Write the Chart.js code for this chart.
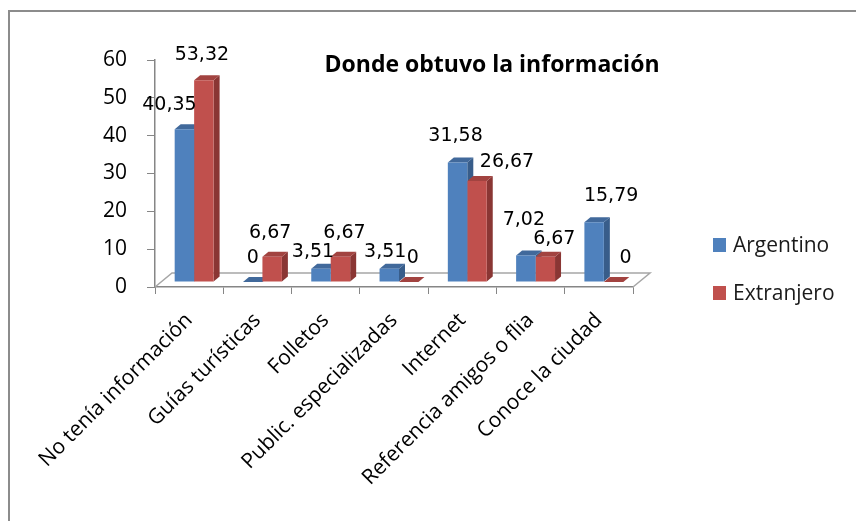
<!DOCTYPE html>
<html>
<head>
<meta charset="utf-8">
<script src="https://cdn.jsdelivr.net/npm/chart.js@4.4.1/dist/chart.umd.min.js"></script>
<style>
  html, body { margin: 0; padding: 0; background: #fff; }
  canvas { display: block; }
</style>
</head>
<body>
<canvas id="chart" width="856" height="521"></canvas>
<script>
// datos
const categories = ['No tenía información', 'Guías turísticas', 'Folletos', 'Public. especializadas', 'Internet', 'Referencia amigos o flia', 'Conoce la ciudad'];
const argentino = [40.35, 0, 3.51, 3.51, 31.58, 7.02, 15.79];
const extranjero = [53.32, 6.67, 6.67, 0, 26.67, 6.67, 0];
const seriesNames = ['Argentino', 'Extranjero'];
const yMin = 0, yMax = 60, yStep = 10;
const chartTitle = 'Donde obtuvo la información';

// ajustes a mano de las etiquetas (como las coloca Excel en 3D)
const labelNudge = [
  [[-15, 0], [0, 0], [-8, 7], [-4, 7], [-2, -2], [-2, -11], [17, -2]],
  [[-2, -1], [-2, 0], [4, 0], [4, 0], [30, 5], [9, 6], [12, 0]]
];

const FRONT = ['#4F81BD', '#C0504D'];
const TOP = ['#41699b', '#a24340'];
const SIDE = ['#385d8a', '#8a3634'];
const SHIFT = { x: 5, y: -5 };   // desplazamiento de las barras sobre el piso
const DEPTH = { x: 6, y: -5 };   // profundidad de cada barra
const FLOOR = { x: 17, y: -14 };
const FONT = '"Open Sans", "Liberation Sans", sans-serif';

function fmt(v) {
  return Number.isInteger(v) ? String(v) : v.toFixed(2).replace('.', ',');
}

const frame3d = {
  id: 'frame3d',
  beforeDraw(chart) {
    const ctx = chart.ctx;
    ctx.save();
    ctx.fillStyle = '#fff';
    ctx.fillRect(0, 0, chart.width, chart.height);
    ctx.strokeStyle = '#8c8c8c';
    ctx.lineWidth = 2;
    ctx.beginPath();
    ctx.moveTo(9, chart.height);
    ctx.lineTo(9, 11);
    ctx.lineTo(chart.width, 11);
    ctx.stroke();
    ctx.restore();
  },
  beforeDatasetsDraw(chart) {
    const ctx = chart.ctx;
    const a = chart.chartArea;
    // piso
    ctx.save();
    ctx.strokeStyle = '#a6a6a6';
    ctx.lineWidth = 1.5;
    ctx.beginPath();
    ctx.moveTo(a.left, a.bottom);
    ctx.lineTo(a.left + FLOOR.x, a.bottom + FLOOR.y);
    ctx.lineTo(a.right + FLOOR.x, a.bottom + FLOOR.y);
    ctx.lineTo(a.right, a.bottom);
    ctx.stroke();
    ctx.restore();

    ctx.save();
    ctx.translate(SHIFT.x, SHIFT.y);
    // caras superiores y laterales antes del frente
    chart.data.datasets.forEach((ds, i) => {
      chart.getDatasetMeta(i).data.forEach(bar => {
        const l = bar.x - bar.width / 2, r = bar.x + bar.width / 2;
        const t = bar.y, b = bar.base;
        ctx.fillStyle = SIDE[i];
        ctx.beginPath();
        ctx.moveTo(r, t);
        ctx.lineTo(r + DEPTH.x, t + DEPTH.y);
        ctx.lineTo(r + DEPTH.x, b + DEPTH.y);
        ctx.lineTo(r, b);
        ctx.closePath();
        ctx.fill();
        ctx.fillStyle = TOP[i];
        ctx.beginPath();
        ctx.moveTo(l, t);
        ctx.lineTo(l + DEPTH.x, t + DEPTH.y);
        ctx.lineTo(r + DEPTH.x, t + DEPTH.y);
        ctx.lineTo(r, t);
        ctx.closePath();
        ctx.fill();
      });
    });
  },
  afterDatasetsDraw(chart) {
    const ctx = chart.ctx;
    ctx.restore();
    ctx.save();
    ctx.font = '19px "DejaVu Sans", sans-serif';
    ctx.fillStyle = '#000';
    ctx.textAlign = 'center';
    ctx.textBaseline = 'middle';
    chart.data.datasets.forEach((ds, i) => {
      chart.getDatasetMeta(i).data.forEach((bar, j) => {
        const n = labelNudge[i][j];
        ctx.fillText(fmt(ds.data[j]), bar.x + SHIFT.x + n[0], bar.y + SHIFT.y - 24 + n[1]);
      });
    });
    // título
    ctx.font = 'bold 23px ' + FONT;
    ctx.fillText(chartTitle, 492, 65);
    // leyenda
    ctx.textAlign = 'left';
    ctx.font = '21px ' + FONT;
    chart.data.datasets.forEach((ds, i) => {
      const y = 245 + i * 48;
      ctx.fillStyle = ds.backgroundColor;
      ctx.fillRect(713, y - 7, 13, 14);
      ctx.fillStyle = '#1a1a1a';
      ctx.fillText(ds.label, 733, y + 1);
    });
    ctx.restore();
  }
};

new Chart(document.getElementById('chart').getContext('2d'), {
  type: 'bar',
  data: {
    labels: categories,
    datasets: [
      { label: seriesNames[0], data: argentino, backgroundColor: FRONT[0] },
      { label: seriesNames[1], data: extranjero, backgroundColor: FRONT[1] }
    ]
  },
  options: {
    responsive: false,
    animation: false,
    devicePixelRatio: 1,
    layout: { padding: { left: 0, right: 223, top: 60, bottom: 0 } },
    datasets: { bar: { categoryPercentage: 0.57, barPercentage: 1 } },
    plugins: { legend: { display: false }, tooltip: { enabled: false } },
    scales: {
      x: {
        afterFit(s) { s.height = 521 - 287; },
        grid: { drawOnChartArea: false, color: '#868686', tickLength: 7, offset: true },
        border: { color: '#868686', width: 1.5 },
        ticks: {
          maxRotation: 45, minRotation: 45, padding: 14,
          color: '#000', font: { family: FONT, size: 21 }
        }
      },
      y: {
        min: yMin, max: yMax,
        afterFit(s) { s.width = 155; },
        grid: { drawOnChartArea: false, color: '#868686', tickLength: 8 },
        border: { color: '#868686', width: 1.5 },
        ticks: {
          stepSize: yStep, padding: 20,
          color: '#000', font: { family: FONT, size: 21 }
        }
      }
    }
  },
  plugins: [frame3d]
});
</script>
</body>
</html>
